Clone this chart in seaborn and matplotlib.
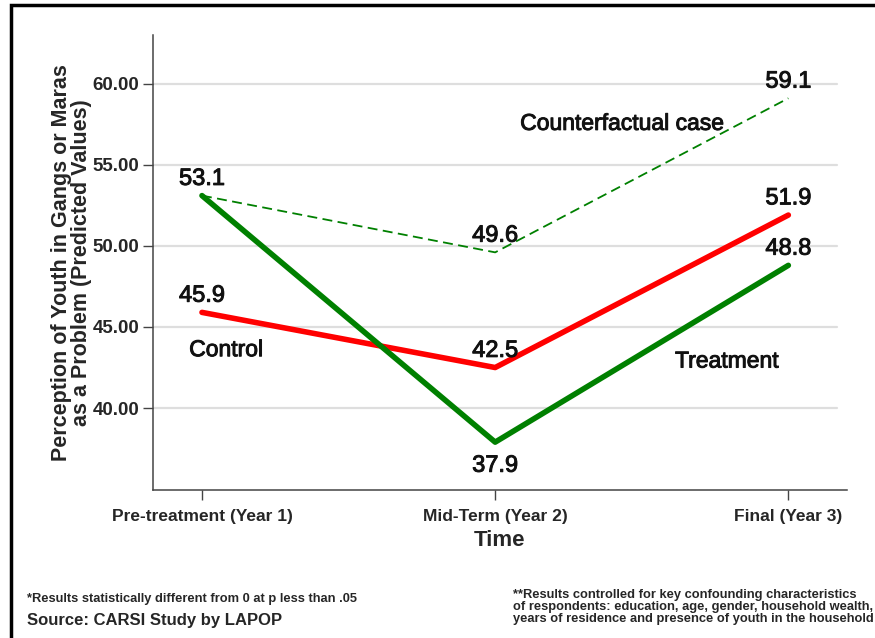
import matplotlib
matplotlib.use('Agg')
import matplotlib.pyplot as plt
import matplotlib.patheffects as pe
import seaborn as sns
import pandas as pd
from matplotlib.patches import Rectangle

# chart data
periods = ['Pre-treatment (Year 1)', 'Mid-Term (Year 2)', 'Final (Year 3)']
control = [45.9, 42.5, 51.9]
treatment = [53.1, 37.9, 48.8]
counterfactual = [53.1, 49.6, 59.1]
y_ticks = [40, 45, 50, 55, 60]

df = pd.DataFrame({
    'pos': list(range(len(periods))) * 3,
    'value': control + treatment + counterfactual,
    'group': ['Control'] * 3 + ['Treatment'] * 3 + ['Counterfactual'] * 3,
})

sns.set_theme(style='white')
plt.rcParams['font.family'] = ['Liberation Sans', 'DejaVu Sans']

fig = plt.figure(figsize=(8.75, 6.38), dpi=100)
ax = fig.add_axes([153 / 875, 1 - 490 / 638, 694 / 875, 455 / 638])

# gridlines
for t in y_ticks:
    ax.axhline(t, color='#dedede', lw=1.6, zorder=0, xmax=0.985)

sns.lineplot(data=df[df['group'] == 'Counterfactual'], x='pos', y='value', ax=ax,
             color='#008000', lw=1.3, linestyle=(0, (5.5, 3)), zorder=2)
sns.lineplot(data=df[df['group'] == 'Control'], x='pos', y='value', ax=ax,
             color='#ff0000', lw=4.0, solid_capstyle='round', zorder=3)
sns.lineplot(data=df[df['group'] == 'Treatment'], x='pos', y='value', ax=ax,
             color='#008000', lw=4.0, solid_capstyle='round', zorder=4)

# value labels (slightly thickened regular type)
thick = [pe.withStroke(linewidth=0.7, foreground='#111111')]
lab_kw = dict(textcoords='offset points', ha='center', va='center', fontsize=17,
              color='#111111', path_effects=thick)
for i, v in enumerate(counterfactual):
    if i == 0:
        continue
    ax.annotate(f'{v:.1f}', (i, v), xytext=(0, 12), **lab_kw)
for i, v in enumerate(control):
    ax.annotate(f'{v:.1f}', (i, v), xytext=(0, 12), **lab_kw)
for i, v in enumerate(treatment):
    off = -17 if i == 1 else 12
    ax.annotate(f'{v:.1f}', (i, v), xytext=(0, off), **lab_kw)

txt_kw = dict(ha='center', va='center', fontsize=16.5, color='#111111', path_effects=thick)
ax.text(1.433, 57.55, 'Counterfactual case', **txt_kw)
ax.text(0.082, 43.6, 'Control', **txt_kw)
ax.text(1.79, 42.9, 'Treatment', **txt_kw)

ax.set_xlim(-0.167, 2.2)
ax.set_ylim(34.95, 63.0)
ax.set_xticks(range(len(periods)))
ax.set_xticklabels(periods, fontsize=12.5, fontweight='bold')
ax.set_yticks(y_ticks)
ax.set_yticklabels([f'{t:.2f}' for t in y_ticks], fontsize=13.5, fontweight='bold')
ax.tick_params(axis='both', direction='out', length=7, width=1, color='#444444',
               bottom=True, left=True)
ax.tick_params(axis='x', pad=7)
ax.tick_params(axis='y', pad=3)

sns.despine(ax=ax)
for s in ['left', 'bottom']:
    ax.spines[s].set_color('#444444')
    ax.spines[s].set_linewidth(1.1)

ax.set_xlabel('Time', fontsize=16, fontweight='bold', labelpad=4)
ax.set_ylabel('Perception of Youth in Gangs or Maras\nas a Problem (Predicted Values)',
              fontsize=15.5, fontweight='bold', linespacing=0.95)
ax.yaxis.set_label_coords(-0.088, 0.5)

# footnotes
fig.text(27 / 875, 1 - 599 / 638, '*Results statistically different from 0 at p less than .05',
         fontsize=9.3, fontweight='bold', va='center')
fig.text(27 / 875, 1 - 620 / 638, 'Source: CARSI Study by LAPOP',
         fontsize=12, fontweight='bold', va='center')
fig.text(513 / 875, 1 - 607 / 638,
         '**Results controlled for key confounding characteristics\n'
         'of respondents: education, age, gender, household wealth,\n'
         'years of residence and presence of youth in the household',
         fontsize=9.3, fontweight='bold', va='center', linespacing=0.95)

# frame around figure
fig.patches.append(Rectangle((11 / 875, -0.05), 1.2, 1.05 - 5 / 638, transform=fig.transFigure,
                             fill=False, edgecolor='black', lw=2.5, clip_on=False))

fig.savefig('out.png', dpi=100)
